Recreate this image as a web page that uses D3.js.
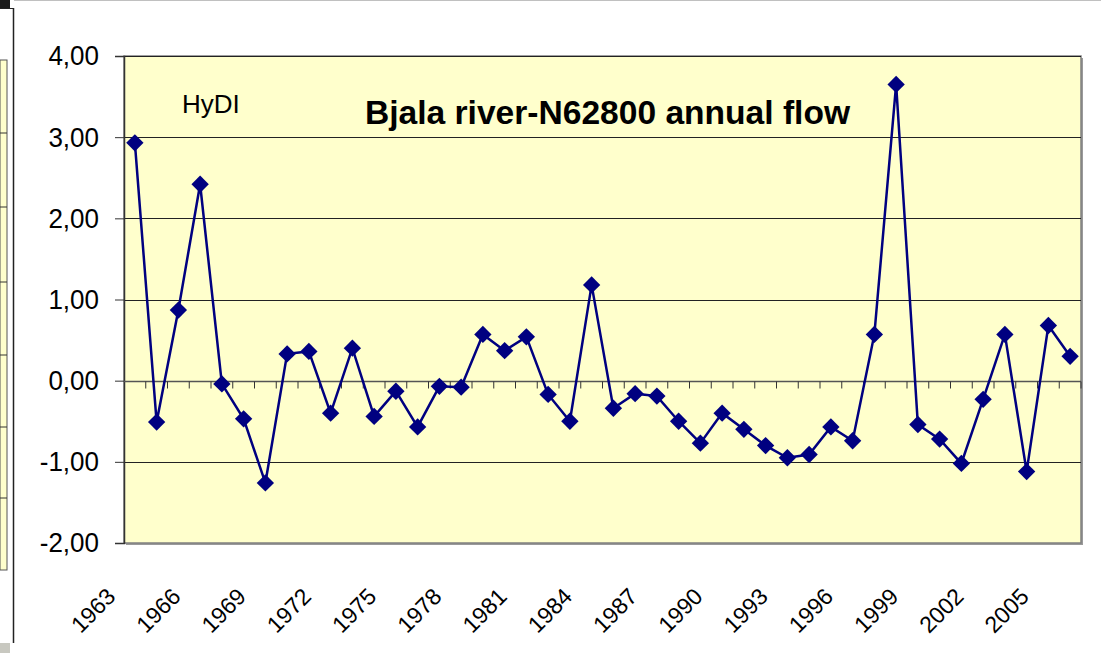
<!DOCTYPE html>
<html>
<head>
<meta charset="utf-8">
<script src="https://cdn.jsdelivr.net/npm/d3@7"></script>
<style>
  html, body { margin: 0; padding: 0; background: #fff; }
  svg { display: block; font-family: "Liberation Sans", Arial, sans-serif; }
</style>
</head>
<body>
<div id="chart"></div>
<script>
const width = 1101;
const height = 653;

// years on the category axis
const years = d3.range(1963, 2007).map(String);
// annual flow index (HyDI)
const flow = [
    2.93, -0.51, 0.87, 2.42, -0.04, -0.47, -1.26, 0.33, 0.36, -0.40,
    0.40, -0.44, -0.13, -0.57, -0.07, -0.08, 0.57, 0.37, 0.54, -0.17,
    -0.50, 1.18, -0.34, -0.16, -0.19, -0.50, -0.77, -0.40, -0.60, -0.80,
    -0.95, -0.91, -0.57, -0.74, 0.57, 3.65, -0.54, -0.72, -1.02, -0.23,
    0.57, -1.12, 0.68, 0.30
];
const yTicks = [-2, -1, 0, 1, 2, 3, 4];
const labelYears = years.filter((d, i) => i % 3 === 0);

const plot = { left: 124, right: 1081, top: 56, bottom: 543 };

const svg = d3.select("#chart")
    .append("svg")
    .attr("width", width)
    .attr("height", height);

// leftover edge of the neighbouring chart
const edge = svg.append("g");
edge.append("rect").attr("x", 0).attr("y", 0).attr("width", 10).attr("height", 8).attr("fill", "#1a1a1a");
edge.append("line").attr("x1", 0).attr("x2", 14).attr("y1", 8.5).attr("y2", 8.5).attr("stroke", "#222");
edge.append("line").attr("x1", 13.5).attr("x2", 13.5).attr("y1", 8).attr("y2", 643).attr("stroke", "#222").attr("stroke-width", 1.5);
edge.append("rect").attr("x", 0).attr("y", 60).attr("width", 7).attr("height", 510)
    .attr("fill", "#ffffcc").attr("stroke", "#555").attr("stroke-width", 1);
[133, 207, 282, 355, 427, 498].forEach(v => {
    edge.append("line").attr("x1", 0).attr("x2", 7).attr("y1", v).attr("y2", v).attr("stroke", "#333");
});
edge.append("rect").attr("x", 0).attr("y", 643).attr("width", 10).attr("height", 10).attr("fill", "#c8c8c0");
svg.append("line").attr("x1", 14).attr("x2", width).attr("y1", 0.5).attr("y2", 0.5).attr("stroke", "#c0c0c0");

const x = d3.scaleBand()
    .domain(years)
    .range([plot.left, plot.right]);

const y = d3.scaleLinear()
    .domain([-2, 4])
    .range([plot.bottom, plot.top]);

// plot background + frame shadow
svg.append("rect")
    .attr("x", plot.left + 2).attr("y", plot.top + 2)
    .attr("width", plot.right - plot.left).attr("height", plot.bottom - plot.top)
    .attr("fill", "#9a9a9a");
svg.append("rect")
    .attr("x", plot.left).attr("y", plot.top)
    .attr("width", plot.right - plot.left).attr("height", plot.bottom - plot.top)
    .attr("fill", "#ffffcc")
    .attr("stroke", "#808080")
    .attr("stroke-width", 1.5);

// gridlines
svg.append("g")
    .selectAll("line")
    .data(yTicks.filter(d => d !== 0 && d !== -2))
    .join("line")
    .attr("x1", plot.left).attr("x2", plot.right)
    .attr("y1", d => Math.round(y(d)) + 0.5).attr("y2", d => Math.round(y(d)) + 0.5)
    .attr("stroke", "#222")
    .attr("stroke-width", 1);

// value axis
const yAxis = svg.append("g")
    .attr("transform", `translate(${plot.left},0)`)
    .call(d3.axisLeft(y)
        .tickValues(yTicks)
        .tickSize(9)
        .tickPadding(16)
        .tickFormat(d => d3.format(".2f")(d).replace(".", ",").replace("−", "-")));
yAxis.select(".domain").attr("stroke", "#333").attr("stroke-width", 1.5);
yAxis.selectAll(".tick line").attr("stroke", "#333");
yAxis.selectAll(".tick text")
    .attr("font-size", 26)
    .attr("fill", "#000")
    .attr("transform", "scale(1,1.08)")
    .attr("y", function () { return -(1 - 1 / 1.08) * 0; })
    .attr("font-family", "Liberation Sans, Arial, sans-serif");

// category axis at zero with ticks between categories
const y0 = Math.round(y(0)) + 0.5;
svg.append("line")
    .attr("x1", plot.left).attr("x2", plot.right)
    .attr("y1", y0).attr("y2", y0)
    .attr("stroke", "#555").attr("stroke-width", 1.5);
svg.append("g")
    .selectAll("line")
    .data(years.slice(1))
    .join("line")
    .attr("x1", d => x(d)).attr("x2", d => x(d))
    .attr("y1", y0).attr("y2", y0 + 7)
    .attr("stroke", "#333");
svg.append("line")
    .attr("x1", plot.right).attr("x2", plot.right)
    .attr("y1", y0).attr("y2", y0 + 7)
    .attr("stroke", "#333");

// year labels
svg.append("g")
    .selectAll("text")
    .data(labelYears)
    .join("text")
    .attr("transform", d => `translate(${x(d) + x.bandwidth() / 2 - 18},598) rotate(-45)`)
    .attr("text-anchor", "end")
    .attr("font-size", 23)
    .attr("fill", "#000")
    .text(d => d);

// series
const cx = d => x(d) + x.bandwidth() / 2;
const line = d3.line()
    .x((d, i) => cx(years[i]))
    .y(d => y(d));

svg.append("path")
    .datum(flow)
    .attr("d", line)
    .attr("fill", "none")
    .attr("stroke", "#000080")
    .attr("stroke-width", 2.5);

svg.append("g")
    .selectAll("path")
    .data(flow)
    .join("path")
    .attr("transform", (d, i) => `translate(${cx(years[i])},${y(d)}) rotate(45)`)
    .attr("d", d3.symbol().type(d3.symbolSquare).size(150))
    .attr("fill", "#000080");

// titles
svg.append("text")
    .attr("x", 365).attr("y", 124)
    .attr("font-size", 34)
    .attr("font-weight", "bold")
    .attr("fill", "#000")
    .attr("textLength", 485)
    .attr("lengthAdjust", "spacingAndGlyphs")
    .text("Bjala river-N62800 annual flow");

svg.append("text")
    .attr("x", 182).attr("y", 113)
    .attr("font-size", 26)
    .attr("fill", "#000")
    .text("HyDI");
</script>
</body>
</html>
